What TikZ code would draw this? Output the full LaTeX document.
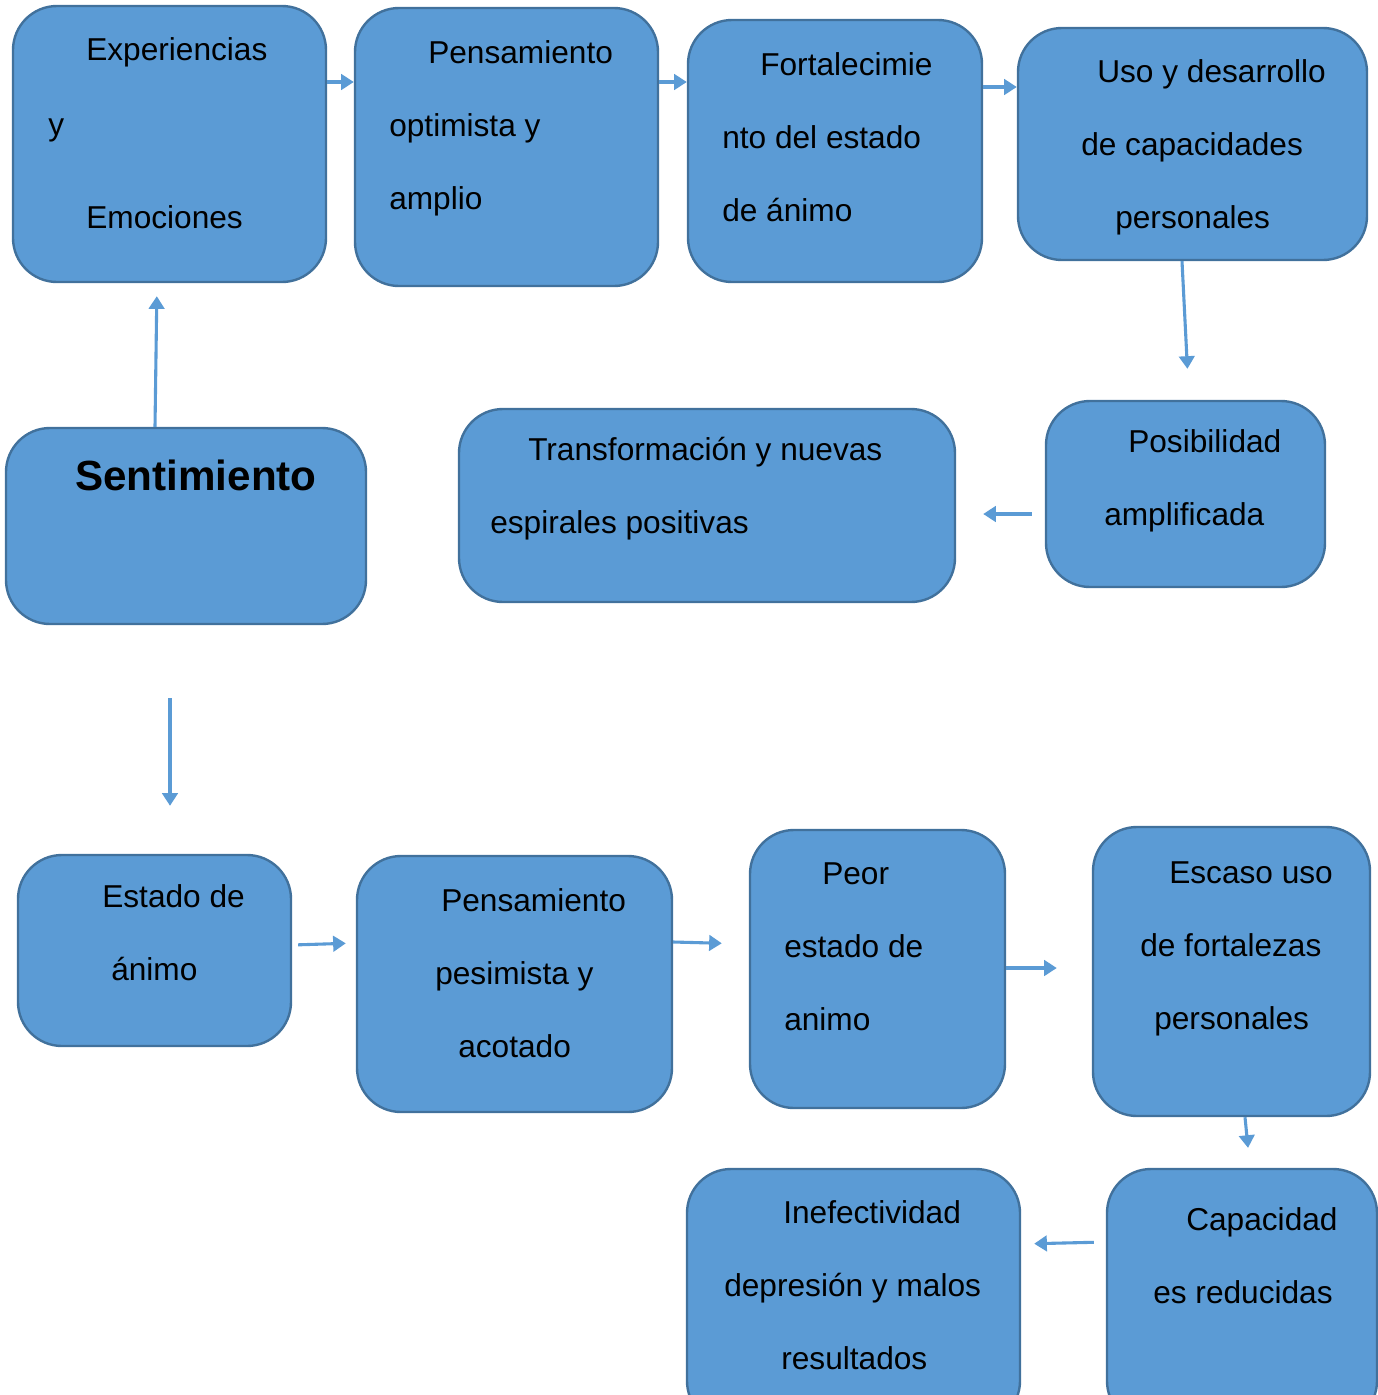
\documentclass[tikz,border=0pt]{standalone}
\usepackage{fontspec}
\setmainfont{Liberation Sans}
\usetikzlibrary{arrows.meta, fit}
\definecolor{boxfill}{RGB}{91,155,213}
\definecolor{boxline}{RGB}{65,113,156}
\tikzset{
  flowbox/.style={rectangle, rounded corners=1.1cm, draw=boxline, line width=1.7pt,
    fill=boxfill, inner sep=0pt},
  flowtext/.style={anchor=base west, inner sep=0pt, align=left,
    font=\fontsize{22.5}{51.9}\selectfont},
  titletext/.style={anchor=base west, inner sep=0pt, font=\fontsize{30}{36}\selectfont\bfseries},
  arrow/.style={-{Triangle[length=9pt,width=11pt]}, line width=2.2pt, color=boxfill}
}

\begin{document}
\begin{tikzpicture}[x=0.025cm, y=-0.025cm]
  \clip (0,0) rectangle (1378,1395);

  % positive spiral (text nodes sit on the baseline of their last line)
  \node[flowbox, fit={(13,6) (326,282)}] (exper) {};
  \node[flowtext] (exper-t) at (48,228)
        {\hspace*{0.95cm}Experiencias\\[0.05cm] y\\[0.5cm] \hspace*{0.95cm}Emociones};
  \node[flowbox, fit={(355,8) (658,286)}] (optim) {};
  \node[flowtext] (optim-t) at (389,209)
        {\hspace*{0.975cm}Pensamiento\\ optimista y\\ amplio};
  \node[flowbox, fit={(688,20) (982,282)}] (fortal) {};
  \node[flowtext] (fortal-t) at (722,221)
        {\hspace*{0.95cm}Fortalecimie\\ nto del estado\\ de ánimo};
  \node[flowbox, fit={(1018,28) (1367,260)}] (desarr) {};
  \node[flowtext] (desarr-t) at (1081,228)
        {\hspace*{0.4cm}Uso y desarrollo\\ de capacidades\\ \hspace*{0.85cm}personales};
  \node[flowbox, fit={(1046,401) (1325,587)}] (posib) {};
  \node[flowtext] (posib-t) at (1104,525)
        {\hspace*{0.6cm}Posibilidad\\ amplificada};
  \node[flowbox, fit={(459,409) (955,602)}] (transf) {};
  \node[flowtext] (transf-t) at (490,533)
        {\hspace*{0.95cm}Transformación y nuevas\\ espirales positivas};

  % centre
  \node[flowbox, fit={(6,428) (366,624)}] (sentim) {};
  \node[titletext] (sentim-t) at (75,490) {Sentimiento};

  % negative spiral
  \node[flowbox, fit={(18,855) (291,1046)}] (estado) {};
  \node[flowtext] (estado-t) at (102,980)
        {Estado de\\ \hspace*{0.225cm}ánimo};
  \node[flowbox, fit={(357,856) (672,1112)}] (pesim) {};
  \node[flowtext] (pesim-t) at (435,1057)
        {\hspace*{0.15cm}Pensamiento\\ pesimista y\\ \hspace*{0.575cm}acotado};
  \node[flowbox, fit={(750,830) (1005,1108)}] (peor) {};
  \node[flowtext] (peor-t) at (784,1030)
        {\hspace*{0.95cm}Peor\\ estado de\\ animo};
  \node[flowbox, fit={(1093,827) (1370,1116)}] (escaso) {};
  \node[flowtext] (escaso-t) at (1140,1029)
        {\hspace*{0.725cm}Escaso uso\\ de fortalezas\\ \hspace*{0.35cm}personales};
  \node[flowbox, fit={(1107,1169) (1377,1425)}] (reduc) {};
  \node[flowtext] (reduc-t) at (1153,1303)
        {\hspace*{0.825cm}Capacidad\\ es reducidas};
  \node[flowbox, fit={(687,1169) (1020,1425)}] (inef) {};
  \node[flowtext] (inef-t) at (724,1369)
        {\hspace*{1.475cm}Inefectividad\\ depresión y malos\\ \hspace*{1.425cm}resultados};

  % arrows of the positive spiral
  \draw[arrow] (exper.east |- 0,82) -- (optim.west |- 0,82);
  \draw[arrow] (optim.east |- 0,82) -- (fortal.west |- 0,82);
  \draw[arrow] (fortal.east |- 0,87) -- (desarr.west |- 0,87);
  \draw[arrow, shorten >=0.775cm] (desarr.south -| 1182,0) -- (posib.north -| 1189,0);
  \draw[arrow, shorten <=0.325cm, shorten >=0.675cm] (posib.west |- 0,514) -- (transf.east |- 0,514);
  \draw[arrow, shorten >=0.325cm] (sentim.north -| 155,0) -- (exper.south -| 157,0);

  % arrows of the negative spiral
  \draw[arrow, shorten <=1.825cm, shorten >=1.2cm] (sentim.south -| 170,0) -- (estado.north -| 170,0);
  \draw[arrow, shorten <=0.15cm, shorten >=0.25cm] (estado.east |- 0,945) -- (pesim.west |- 0,943);
  \draw[arrow, shorten >=0.675cm] (pesim.east |- 0,942) -- (peor.west |- 0,944);
  \draw[arrow, shorten >=0.875cm] (peor.east |- 0,968) -- (escaso.west |- 0,968);
  \draw[arrow, shorten >=0.5cm] (escaso.south -| 1245,0) -- (reduc.north -| 1250,0);
  \draw[arrow, shorten <=0.3cm, shorten >=0.325cm] (reduc.west |- 0,1242) -- (inef.east |- 0,1244);
\end{tikzpicture}
\end{document}
